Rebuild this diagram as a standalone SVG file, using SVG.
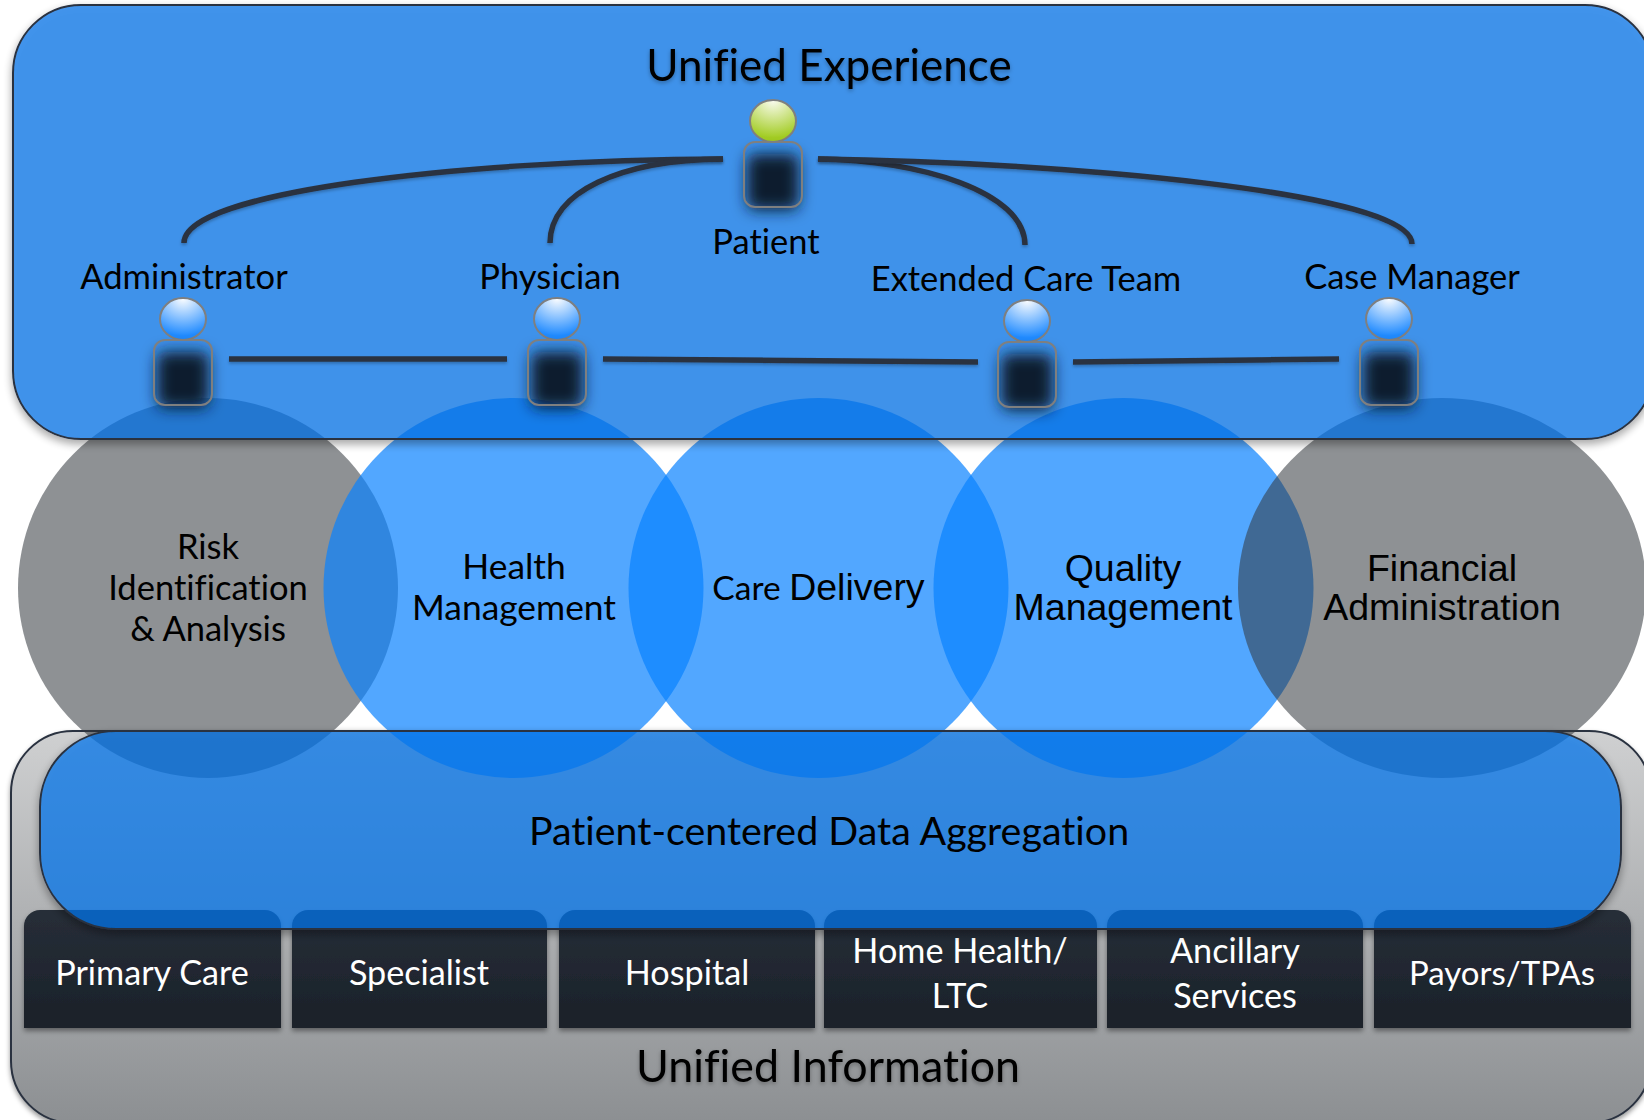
<svg xmlns="http://www.w3.org/2000/svg" width="1644" height="1120" viewBox="0 0 1644 1120">
<style>
text{font-family:"Lato","Liberation Sans",sans-serif;fill:#000;text-anchor:middle;font-size:34.5px;font-variant-ligatures:none}
.big{font-size:44px;filter:url(#ts)}
.ar{font-family:"Liberation Sans",Arial,sans-serif;font-size:37.5px}
.w{fill:#fff;font-size:34.2px}
.agg{font-size:39.4px}
.cb{fill:#0882ff;fill-opacity:.7}
.cg{fill:#32373c;fill-opacity:.55}
.body{fill:none;stroke:#7f7f7f;stroke-width:2}
.core{fill:#0a1a2e;filter:url(#bl)}
.head{stroke:#7f7f7f;stroke-width:2;fill:url(#hb)}
.box{fill:url(#bx);filter:url(#sh)}
.con{fill:none;stroke:#2a3240;stroke-width:5.5;filter:url(#ls)}
</style>
<defs>
<linearGradient id="gb" x1="0" y1="0" x2="0" y2="1"><stop offset="0" stop-color="#cfd0d1"/><stop offset="1" stop-color="#8c8f92"/></linearGradient>
<linearGradient id="bx" x1="0" y1="0" x2="0" y2="1"><stop offset="0" stop-color="#272e38"/><stop offset="1" stop-color="#1a2129"/></linearGradient>
<radialGradient id="hb" cx=".5" cy="0" r=".9"><stop offset="0" stop-color="#ffffff"/><stop offset="1" stop-color="#1f8aff"/></radialGradient>
<radialGradient id="hg" cx=".5" cy="0" r=".9"><stop offset="0" stop-color="#fbfcf2"/><stop offset="1" stop-color="#a2cc22"/></radialGradient>
<filter id="bl" x="-60%" y="-60%" width="220%" height="220%"><feGaussianBlur stdDeviation="7.5"/></filter>
<filter id="sh" x="-5%" y="-10%" width="110%" height="125%"><feDropShadow dx="0" dy="3" stdDeviation="2.5" flood-color="#000" flood-opacity=".4"/></filter>
<filter id="ls" filterUnits="userSpaceOnUse" x="0" y="0" width="1644" height="1120"><feDropShadow dx="0" dy="2" stdDeviation="1.5" flood-color="#000" flood-opacity=".25"/></filter>
<filter id="ts" x="-5%" y="-20%" width="110%" height="140%"><feDropShadow dx="0" dy="2" stdDeviation="2" flood-color="#000" flood-opacity=".3"/></filter>
<filter id="os" x="-3%" y="-5%" width="106%" height="115%"><feGaussianBlur in="SourceAlpha" stdDeviation="4"/><feOffset dy="4"/><feComposite in2="SourceAlpha" operator="out" result="s"/><feComponentTransfer in="s" result="t"><feFuncA type="linear" slope=".45"/></feComponentTransfer><feMerge><feMergeNode in="t"/><feMergeNode in="SourceGraphic"/></feMerge></filter>
<g id="person-body"><rect class="core" x="3" y="12" width="52" height="56" rx="8"/><rect class="body" width="58" height="65" rx="11"/></g>
</defs>
<rect width="1644" height="1120" fill="#fff"/>

<g id="unified-information">
<rect x="11" y="731" width="1640" height="392" rx="62" fill="url(#gb)" stroke="#2a3240" stroke-width="2" filter="url(#sh)"/>
<text class="big" x="828" y="1082" style="font-size:44.8px">Unified Information</text>
</g>
<g id="source-primary-care"><path class="box" d="M24 1028V926a16 16 0 0 1 16-16H265a16 16 0 0 1 16 16V1028Z"/><text class="w" x="152" y="985">Primary Care</text></g>
<g id="source-specialist"><path class="box" d="M292 1028V926a16 16 0 0 1 16-16H531a16 16 0 0 1 16 16V1028Z"/><text class="w" x="419" y="985">Specialist</text></g>
<g id="source-hospital"><path class="box" d="M559 1028V926a16 16 0 0 1 16-16H799a16 16 0 0 1 16 16V1028Z"/><text class="w" x="687" y="985">Hospital</text></g>
<g id="source-home-health"><path class="box" d="M824 1028V926a16 16 0 0 1 16-16H1081a16 16 0 0 1 16 16V1028Z"/><text class="w" x="960" y="963">Home Health/</text><text class="w" x="960" y="1008">LTC</text></g>
<g id="source-ancillary"><path class="box" d="M1107 1028V926a16 16 0 0 1 16-16H1347a16 16 0 0 1 16 16V1028Z"/><text class="w" x="1235" y="963">Ancillary</text><text class="w" x="1235" y="1008">Services</text></g>
<g id="source-payors"><path class="box" d="M1374 1028V926a16 16 0 0 1 16-16H1615a16 16 0 0 1 16 16V1028Z"/><text class="w" x="1502" y="985" style="font-size:33px">Payors/TPAs</text></g>

<g id="circle-risk"><circle class="cg" cx="208" cy="588" r="190"/></g>
<g id="circle-health"><circle class="cb" cx="513.5" cy="588" r="190"/></g>
<g id="circle-care"><circle class="cb" cx="818.5" cy="588" r="190"/></g>
<g id="circle-quality"><circle class="cb" cx="1123.5" cy="588" r="190"/></g>
<g id="circle-financial"><ellipse class="cg" cx="1442" cy="588" rx="204" ry="190"/></g>

<g id="data-aggregation">
<rect x="40" y="731" width="1581" height="198" rx="76" fill="#0074ec" fill-opacity=".72" stroke="#2a3240" stroke-width="2" filter="url(#os)"/>
<text class="agg" x="829" y="845">Patient-centered Data Aggregation</text>
</g>
<g id="unified-experience">
<rect x="13" y="5" width="1640" height="434" rx="68" fill="#006fe6" fill-opacity=".73" stroke="#2a3240" stroke-width="2" filter="url(#os)"/>
<text class="big" x="829" y="81">Unified Experience</text>
</g>

<g id="label-risk"><text x="208" y="559">Risk</text><text x="208" y="600">Identification</text><text x="208" y="641">&amp; Analysis</text></g>
<g id="label-health"><text x="514" y="579" style="font-size:35.4px">Health</text><text x="514" y="620" style="font-size:35.4px">Management</text></g>
<g id="label-care"><text x="818.500" y="600"><tspan style="font-size:33.5px">Care </tspan><tspan class="ar">Delivery</tspan></text></g>
<g id="label-quality"><text class="ar" x="1123" y="581">Quality</text><text class="ar" x="1123" y="620">Management</text></g>
<g id="label-financial"><text class="ar" x="1442" y="581">Financial</text><text class="ar" x="1442" y="620">Administration</text></g>

<g id="connectors">
<path class="con" d="M723 159C460 160 184 192 184 243"/>
<path class="con" d="M723 159C620 160 550 192 550 243"/>
<path class="con" d="M818 159C920 160 1025 192 1025 245"/>
<path class="con" d="M818 159C1060 162 1412 192 1412 244"/>
<path class="con" d="M229 359H507"/>
<path class="con" d="M603 359L978 362"/>
<path class="con" d="M1073 362L1339 359"/>
</g>

<g id="person-patient"><ellipse class="head" style="fill:url(#hg)" cx="773" cy="121" rx="23" ry="21"/><use href="#person-body" x="744" y="142"/><text x="766" y="254">Patient</text></g>
<g id="person-administrator"><ellipse class="head" cx="183" cy="319" rx="23" ry="21"/><use href="#person-body" x="154" y="340"/><text x="184" y="289">Administrator</text></g>
<g id="person-physician"><ellipse class="head" cx="557" cy="319" rx="23" ry="21"/><use href="#person-body" x="528" y="340"/><text x="550" y="289">Physician</text></g>
<g id="person-extended"><ellipse class="head" cx="1027" cy="321" rx="23" ry="21"/><use href="#person-body" x="998" y="342"/><text x="1026" y="291">Extended Care Team</text></g>
<g id="person-case-manager"><ellipse class="head" cx="1389" cy="319" rx="23" ry="21"/><use href="#person-body" x="1360" y="340"/><text x="1412" y="289">Case Manager</text></g>
</svg>
